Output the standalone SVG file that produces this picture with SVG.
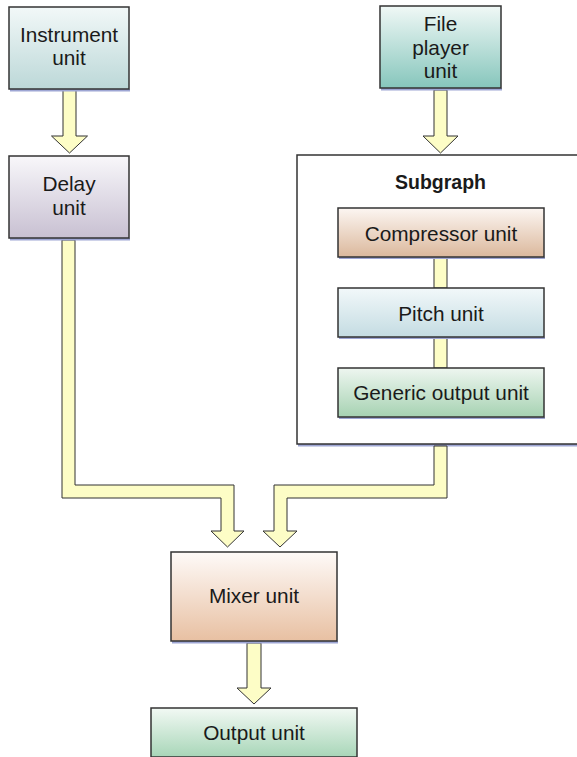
<svg xmlns="http://www.w3.org/2000/svg" width="577" height="757" viewBox="0 0 577 757">
<defs>
<linearGradient id="gInstr" x1="0" y1="0" x2="0" y2="1"><stop offset="0" stop-color="#f2f8f8"/><stop offset="1" stop-color="#bcd8d8"/></linearGradient>
<linearGradient id="gFile" x1="0" y1="0" x2="0" y2="1"><stop offset="0" stop-color="#f0f8f6"/><stop offset="1" stop-color="#86c6bc"/></linearGradient>
<linearGradient id="gDelay" x1="0" y1="0" x2="0" y2="1"><stop offset="0" stop-color="#f8f7fa"/><stop offset="1" stop-color="#c8c0d2"/></linearGradient>
<linearGradient id="gComp" x1="0" y1="0" x2="0" y2="1"><stop offset="0" stop-color="#fcf6f2"/><stop offset="1" stop-color="#dbb89c"/></linearGradient>
<linearGradient id="gPitch" x1="0" y1="0" x2="0" y2="1"><stop offset="0" stop-color="#f2f8fa"/><stop offset="1" stop-color="#c4dce2"/></linearGradient>
<linearGradient id="gGen" x1="0" y1="0" x2="0" y2="1"><stop offset="0" stop-color="#eef6f0"/><stop offset="1" stop-color="#a6d2b2"/></linearGradient>
<linearGradient id="gMix" x1="0" y1="0" x2="0" y2="1"><stop offset="0" stop-color="#fefaf8"/><stop offset="1" stop-color="#e8c0a2"/></linearGradient>
<linearGradient id="gOut" x1="0" y1="0" x2="0" y2="1"><stop offset="0" stop-color="#f2f9f4"/><stop offset="1" stop-color="#a8d6b8"/></linearGradient>
</defs>
<style>
.box{stroke:#333;stroke-width:1.5}
.shadow{fill:#9ea6d4}
.t{font-family:"Liberation Sans",Arial,sans-serif;font-size:20.8px;fill:#1a1a1a;text-anchor:middle}
.b{font-weight:bold;font-size:19.5px}
.conn{fill:#fdfdc6;stroke:#333;stroke-width:1}
</style>
<g id="subgraph">
<rect class="shadow" x="298" y="444" width="290" height="2.5"/>
<rect class="box" x="297" y="155" width="290" height="289" fill="#fff"/>
<text class="t b" x="440.5" y="189">Subgraph</text>
</g>
<g id="connectors">
<polygon class="conn" points="63,90 76,90 76,136 87.5,136 69.5,153 51.5,136 63,136"/>
<polygon class="conn" points="434,90 447,90 447,136 458,136 440.5,153 423,136 434,136"/>
<rect class="conn" x="434" y="258" width="13" height="30"/>
<rect class="conn" x="434" y="338" width="13" height="30"/>
<polygon class="conn" points="62,240 75,240 75,485 234,485 234,531 244,531 227.5,547 211,531 221,531 221,498 62,498"/>
<polygon class="conn" points="434,446 447,446 447,498 287,498 287,531 297,531 280,547 263,531 274,531 274,485 434,485"/>
<polygon class="conn" points="247,643 261,643 261,688 271,688 254,704 237,688 247,688"/>
</g>
<g id="instrument">
<rect class="shadow" x="10" y="89" width="120" height="2.5"/>
<rect class="box" x="9" y="7" width="120" height="82" fill="url(#gInstr)"/>
<text class="t" x="69" y="42">Instrument</text>
<text class="t" x="69" y="65">unit</text>
</g>
<g id="fileplayer">
<rect class="shadow" x="381" y="88" width="121" height="2.5"/>
<rect class="box" x="380" y="6" width="121" height="82" fill="url(#gFile)"/>
<text class="t" x="440.5" y="31">File</text>
<text class="t" x="440.5" y="55">player</text>
<text class="t" x="440.5" y="78">unit</text>
</g>
<g id="delay">
<rect class="shadow" x="10" y="238" width="120" height="2.5"/>
<rect class="box" x="9" y="156" width="120" height="82" fill="url(#gDelay)"/>
<text class="t" x="69" y="191">Delay</text>
<text class="t" x="69" y="215">unit</text>
</g>
<g id="compressor">
<rect class="shadow" x="339" y="257" width="206" height="2"/>
<rect class="box" x="338" y="208" width="206" height="49" fill="url(#gComp)"/>
<text class="t" x="441" y="241">Compressor unit</text>
</g>
<g id="pitch">
<rect class="shadow" x="339" y="337" width="206" height="2"/>
<rect class="box" x="338" y="288" width="206" height="49" fill="url(#gPitch)"/>
<text class="t" x="441" y="321">Pitch unit</text>
</g>
<g id="genericoutput">
<rect class="shadow" x="339" y="417" width="206" height="2"/>
<rect class="box" x="338" y="368" width="206" height="49" fill="url(#gGen)"/>
<text class="t" x="441" y="400">Generic output unit</text>
</g>
<g id="mixer">
<rect class="shadow" x="172" y="641" width="166" height="2.5"/>
<rect class="box" x="171" y="552" width="166" height="89" fill="url(#gMix)"/>
<text class="t" x="254" y="603">Mixer unit</text>
</g>
<g id="output">
<rect class="box" x="151" y="708" width="206" height="49" fill="url(#gOut)"/>
<text class="t" x="254" y="740">Output unit</text>
</g>
</svg>
